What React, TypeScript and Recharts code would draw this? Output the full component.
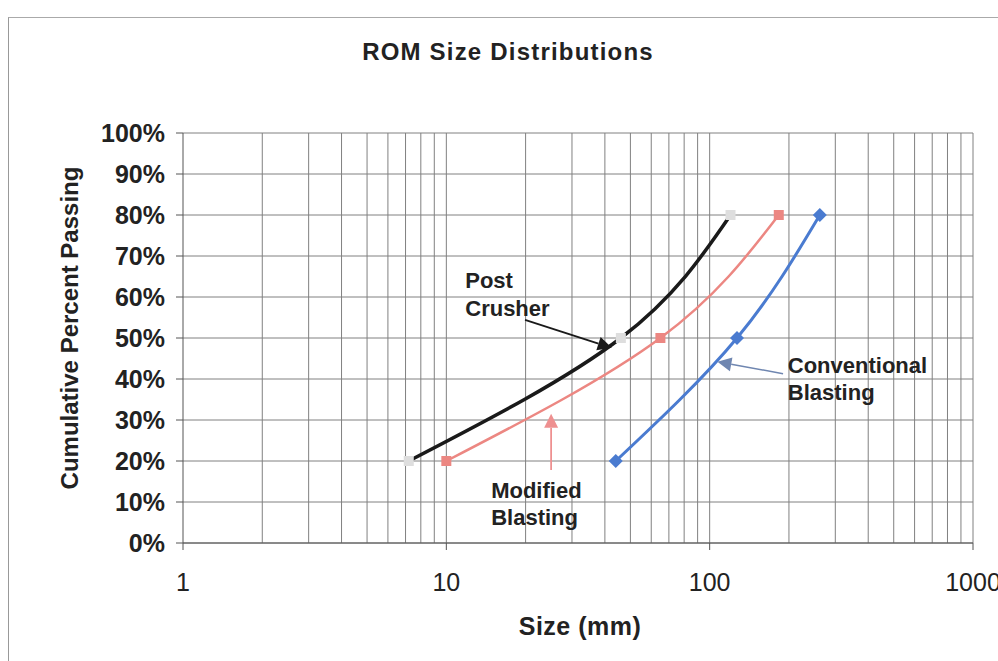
import React from "react";
import {
  LineChart,
  Line,
  XAxis,
  YAxis,
  CartesianGrid,
  ReferenceLine,
  ReferenceDot,
} from "recharts";

// ---- Data ----
const postCrusherSize = [7.2, 46, 120];
const postCrusherPassing = [20, 50, 80];
const modifiedSize = [10, 65, 183];
const modifiedPassing = [20, 50, 80];
const conventionalSize = [44, 127, 262];
const conventionalPassing = [20, 50, 80];

const xTicks = [1, 10, 100, 1000];
const yTicks = [0, 10, 20, 30, 40, 50, 60, 70, 80, 90, 100];
const minorGridX = [
  2, 3, 4, 5, 6, 7, 8, 9, 10, 20, 30, 40, 50, 60, 70, 80, 90, 100, 200, 300,
  400, 500, 600, 700, 800, 900, 1000,
];

const postCrusher = postCrusherSize.map((s, i) => ({ size: s, pct: postCrusherPassing[i] }));
const modified = modifiedSize.map((s, i) => ({ size: s, pct: modifiedPassing[i] }));
const conventional = conventionalSize.map((s, i) => ({ size: s, pct: conventionalPassing[i] }));

// annotation texts (data coords)
const labelTexts = [
  { x: 11.8, y: 64, text: "Post" },
  { x: 11.8, y: 57.2, text: "Crusher" },
  { x: 198, y: 43.4, text: "Conventional" },
  { x: 198, y: 36.6, text: "Blasting" },
  { x: 14.8, y: 12.9, text: "Modified" },
  { x: 14.8, y: 6.1, text: "Blasting" },
];
const arrows = [
  { x1: 19.9, y1: 54.4, x2: 42.5, y2: 47.6, color: "#1a1a1a", w: 1.8 },
  { x1: 190, y1: 41.3, x2: 107, y2: 44.2, color: "#6f86b0", w: 1.5 },
  { x1: 25, y1: 17.8, x2: 25, y2: 31.5, color: "#ee9090", w: 1.8 },
];

const FONT = "'Liberation Sans', Arial, sans-serif";

const ArrowShape = (color: string, w: number) => (props: any) => {
  const { x1, y1, x2, y2 } = props;
  if (x1 == null) return null;
  const ang = Math.atan2(y2 - y1, x2 - x1);
  const L = 14;
  const H = 7;
  const bx = x2 - L * Math.cos(ang);
  const by = y2 - L * Math.sin(ang);
  const px = -Math.sin(ang) * H;
  const py = Math.cos(ang) * H;
  return (
    <g>
      <line x1={x1} y1={y1} x2={bx} y2={by} stroke={color} strokeWidth={w} />
      <polygon
        points={`${x2},${y2} ${bx + px},${by + py} ${bx - px},${by - py}`}
        fill={color}
      />
    </g>
  );
};

const TextShape = (text: string) => (props: any) => (
  <text
    x={props.cx}
    y={props.cy}
    fontFamily={FONT}
    fontWeight="bold"
    fontSize={22}
    fill="#222"
    dominantBaseline="central"
    textAnchor="start"
  >
    {text}
  </text>
);

const Diamond = (props: any) => {
  const { cx, cy } = props;
  const r = 7;
  return (
    <polygon
      points={`${cx},${cy - r} ${cx + r},${cy} ${cx},${cy + r} ${cx - r},${cy}`}
      fill="#4a7bd0"
    />
  );
};
const Square = (props: any) => {
  const { cx, cy } = props;
  const r = 5;
  return <rect x={cx - r} y={cy - r} width={2 * r} height={2 * r} fill="#ec8782" />;
};
const GreyDot = (props: any) => {
  const { cx, cy } = props;
  const r = 5;
  return <rect x={cx - r} y={cy - r} width={2 * r} height={2 * r} fill="#dedede" />;
};

const YTick = (props: any) => {
  const { x, y, payload } = props;
  return (
    <text
      x={x - 9}
      y={y}
      textAnchor="end"
      dominantBaseline="central"
      fontFamily={FONT}
      fontWeight="bold"
      fontSize={25}
      fill="#222"
    >
      {payload.value}%
    </text>
  );
};
const XTick = (props: any) => {
  const { x, y, payload } = props;
  return (
    <text
      x={x}
      y={y + 30}
      textAnchor="middle"
      dominantBaseline="central"
      fontFamily={FONT}
      fontSize={25}
      fill="#222"
    >
      {payload.value}
    </text>
  );
};

export default function App() {
  return (
    <div
      style={{
        position: "absolute",
        left: 0,
        top: 0,
        width: 998,
        height: 661,
        background: "#fff",
        overflow: "hidden",
      }}
    >
      <div
        style={{
          position: "absolute",
          left: 8,
          top: 17,
          width: 1000,
          height: 700,
          borderLeft: "1.5px solid #999",
          borderTop: "1.5px solid #aaa",
        }}
      />
      <div
        style={{
          position: "absolute",
          left: 0,
          top: 52,
          width: 1016,
          transform: "translateY(-50%)",
          textAlign: "center",
          fontFamily: FONT,
          fontWeight: "bold",
          fontSize: 24,
          letterSpacing: 1.2,
          color: "#222",
        }}
      >
        ROM Size Distributions
      </div>
      <div
        style={{
          position: "absolute",
          left: 70,
          top: 328,
          transform: "translate(-50%, -50%) rotate(-90deg)",
          whiteSpace: "nowrap",
          fontFamily: FONT,
          fontWeight: "bold",
          fontSize: 24,
          color: "#222",
        }}
      >
        Cumulative Percent Passing
      </div>
      <div
        style={{
          position: "absolute",
          left: 580,
          top: 626,
          transform: "translate(-50%, -50%)",
          whiteSpace: "nowrap",
          fontFamily: FONT,
          fontWeight: "bold",
          fontSize: 25,
          letterSpacing: 0.5,
          color: "#222",
        }}
      >
        Size (mm)
      </div>
      <div style={{ position: "absolute", left: 0, top: 0 }}>
        <LineChart
          width={1010}
          height={661}
          margin={{ top: 133, right: 37, bottom: 58, left: 83 }}
          style={{ overflow: "visible" }}
        >
          <CartesianGrid vertical={false} stroke="#808080" strokeWidth={1} />
          {minorGridX.map((v) => (
            <ReferenceLine key={"g" + v} x={v} stroke="#808080" strokeWidth={1} />
          ))}
          <XAxis
            dataKey="size"
            type="number"
            scale="log"
            domain={[1, 1000]}
            ticks={xTicks}
            allowDataOverflow
            height={60}
            tick={<XTick />}
            tickSize={7}
            axisLine={{ stroke: "#555" }}
            tickLine={{ stroke: "#555" }}
          />
          <YAxis
            type="number"
            dataKey="pct"
            domain={[0, 100]}
            ticks={yTicks}
            width={100}
            tick={<YTick />}
            tickSize={7}
            axisLine={{ stroke: "#555" }}
            tickLine={{ stroke: "#555" }}
          />
          <Line
            data={modified}
            dataKey="pct"
            type="natural"
            stroke="#ec8782"
            strokeWidth={2.5}
            dot={<Square />}
            isAnimationActive={false}
          />
          <Line
            data={conventional}
            dataKey="pct"
            type="natural"
            stroke="#4a7bd0"
            strokeWidth={3}
            dot={<Diamond />}
            isAnimationActive={false}
          />
          <Line
            data={postCrusher}
            dataKey="pct"
            type="natural"
            stroke="#1a1a1a"
            strokeWidth={3.5}
            dot={<GreyDot />}
            isAnimationActive={false}
          />
          {arrows.map((a, i) => (
            <ReferenceLine
              key={"a" + i}
              segment={[
                { x: a.x1, y: a.y1 },
                { x: a.x2, y: a.y2 },
              ]}
              shape={ArrowShape(a.color, a.w)}
            />
          ))}
          {labelTexts.map((t, i) => (
            <ReferenceDot
              key={"t" + i}
              x={t.x}
              y={t.y}
              r={0}
              shape={TextShape(t.text)}
            />
          ))}
        </LineChart>
      </div>
    </div>
  );
}
